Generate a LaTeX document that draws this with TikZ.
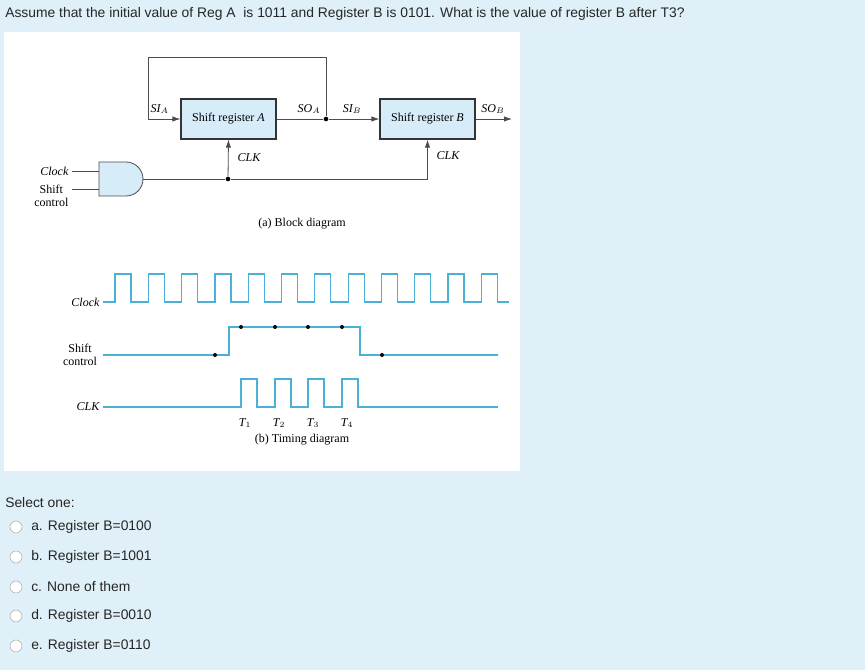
\documentclass[tikz,border=0pt]{standalone}
\usepackage{fontspec}
\setmainfont{Liberation Serif}
\newfontfamily\arial{Liberation Sans}
\usetikzlibrary{arrows.meta}
\definecolor{bgc}{HTML}{DFF0F8}
\definecolor{boxc}{HTML}{D6ECF8}
\definecolor{wave}{HTML}{4AB0D6}
\begin{document}
\begin{tikzpicture}[x=0.75pt,y=-0.75pt,
  reg/.style={draw=black!80,fill=boxc,line width=0.8pt,minimum width=95*0.75pt,minimum height=40*0.75pt,inner sep=0pt,font=\fontsize{9}{10}\selectfont},
  lbl/.style={font=\fontsize{9}{10}\selectfont\itshape,inner sep=1pt},
  tlbl/.style={font=\fontsize{9}{9.5}\selectfont,inner sep=1pt,align=center},
  wire/.style={draw=black!70,line width=0.6pt},
  wv/.style={draw=wave,line width=0.9pt},
  arr/.style={-{Latex[length=6pt,width=4pt]}},
  dot/.style={circle,fill=black,inner sep=0pt,minimum size=3pt},
  q/.style={font=\arial\fontsize{10.4}{12}\selectfont,anchor=west,inner sep=0pt,text=black!85},
  radio/.style={circle,draw=black!35,fill=white,inner sep=0pt,minimum size=9pt}]
\fill[bgc] (0,0) rectangle (865,670);
\useasboundingbox (0,0) rectangle (865,670);
\fill[white] (4,32) rectangle (520,471);
\node[q] (qt) at (5,14) {Assume that the initial value of Reg A\ \ is 1011 and Register B is 0101. What is the value of register B after T3?};
% block diagram
\node[reg] (ra) at (228.5,119) {Shift register \textit{A}};
\node[reg] (rb) at (427.5,119) {Shift register \textit{B}};
\coordinate (fl) at (148,119);
\node[dot,minimum size=3.5pt] (ja) at (326,119) {};
\draw[wire] (ra.east) -- (ja);
\draw[wire,arr] (ja) -- (rb.west);
\draw[wire,arr] (ja) -- (326,57) -| (fl) -- (ra.west);
\coordinate (ob) at (512,119);
\draw[wire,arr] (rb.east) -- (ob);
\node[lbl,anchor=south west] at (149,115) {SI$_A$};
\node[lbl,anchor=south east] at (322,115) {SO$_A$};
\node[lbl,anchor=south] at (352,115) {SI$_B$};
\node[lbl,anchor=south] at (493,115) {SO$_B$};
% AND gate
\draw[wire,fill=boxc] (99,162) -- (126,162) arc[start angle=90,end angle=-90,x radius=17,y radius=-17] -- (99,196) -- cycle;
\coordinate (gout) at (143,179);
\draw[wire] (72,171) -- (99,171);
\draw[wire] (72,189) -- (99,189);
\node[lbl,anchor=east] (ck) at (70,171) {Clock};
\node[tlbl,anchor=east] (sc) at (70,196) {Shift\\control};
\node[dot,minimum size=3.5pt] (jc) at (228,179) {};
\draw[wire] (gout) -- (jc);
\draw[wire,arr] (jc) -- (ra.south);
\draw[wire,arr] (jc) -| (rb.south);
\node[lbl] at (249,158) {CLK};
\node[lbl] at (448,156) {CLK};
\node[tlbl] at (302,224) {(a) Block diagram};
% timing
\draw[wv] (103,302) foreach \k in {0,...,11} {-- ({115+\k*33.3},302) -- ({115+\k*33.3},274) -- ({131+\k*33.3},274) -- ({131+\k*33.3},302)} -- (509,302);
\draw[wv] (103,355) -- (229,355) -- (229,327) -- (360,327) -- (360,355) -- (498,355);
\draw[wv] (103,407) foreach \x in {241,275,308,342} {-- (\x,407) -- (\x,379) -- (\x+16,379) -- (\x+16,407)} -- (498,407);
\foreach \p in {(215,355),(241,327),(275,327),(308,327),(342,327),(382,355)} \node[dot] at \p {};
\node[lbl,anchor=east] at (101,302) {Clock};
\node[tlbl] at (80,355) {Shift\\control};
\node[lbl,anchor=east] at (101,407) {CLK};
\foreach \x/\t in {245/1,279/2,313/3,347/4} \node[lbl] at (\x,423) {T$_\t$};
\node[tlbl] at (302,440) {(b) Timing diagram};
% options
\node[q] at (5,503) {Select one:};
\foreach \y/\t in {527/a. Register B=0100,557/b. Register B=1001,587/c. None of them,616/d. Register B=0010,646/e. Register B=0110} {
  \node[radio] at (16,\y) {};
  \node[q] at (31,\y) {\t};
}
\end{tikzpicture}
\end{document}
